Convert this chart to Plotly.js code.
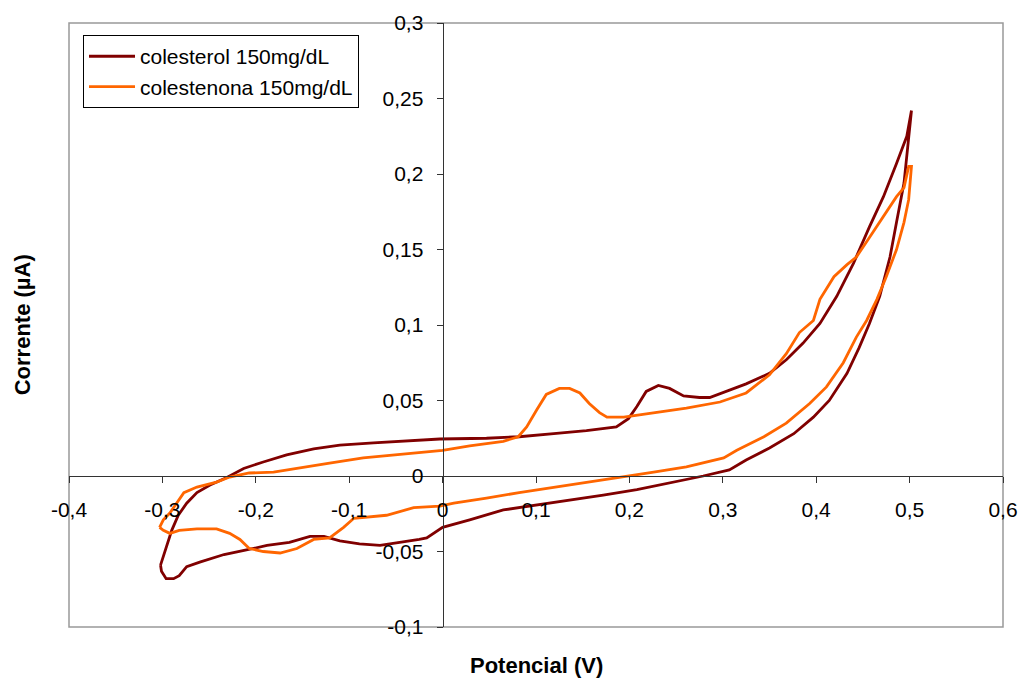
<!DOCTYPE html>
<html>
<head>
<meta charset="utf-8">
<script src="https://cdn.plot.ly/plotly-3.0.1.min.js"></script>
<style>html,body{margin:0;padding:0;background:#fff;}#chart{width:1030px;height:680px;}</style>
</head>
<body>
<div id="chart"></div>
<script>
// ---- Data ----
var seriesNames = ['colesterol 150mg/dL', 'colestenona 150mg/dL'];

// colesterol: anodic (forward) sweep
var colesterolFwdE = [-0.302,-0.296,-0.290,-0.283,-0.274,-0.263,-0.249,-0.231,-0.213,-0.192,-0.167,-0.138,-0.110,-0.074,-0.039,-0.003,0.047,0.082,0.119,0.154,0.186,0.199,0.208,0.218,0.231,0.243,0.258,0.275,0.286,0.304,0.325,0.350,0.368,0.386,0.404,0.422,0.440,0.457,0.472,0.486,0.497,0.502];
var colesterolFwdI = [-0.059,-0.047,-0.036,-0.026,-0.018,-0.011,-0.006,-0.001,0.005,0.0093,0.014,0.018,0.0205,0.022,0.023,0.0245,0.025,0.026,0.028,0.030,0.0325,0.038,0.046,0.056,0.060,0.058,0.053,0.052,0.052,0.056,0.061,0.068,0.077,0.088,0.101,0.119,0.141,0.165,0.185,0.207,0.225,0.242];
// colesterol: cathodic (reverse) sweep
var colesterolRevE = [0.499,0.494,0.486,0.479,0.468,0.457,0.446,0.433,0.414,0.397,0.376,0.350,0.325,0.307,0.279,0.243,0.208,0.172,0.136,0.101,0.065,0.029,0.0,-0.017,-0.025,-0.046,-0.067,-0.089,-0.110,-0.127,-0.142,-0.164,-0.188,-0.210,-0.234,-0.260,-0.274,-0.282,-0.288,-0.296,-0.301,-0.302];
var colesterolRevI = [0.222,0.194,0.168,0.145,0.119,0.101,0.085,0.068,0.050,0.039,0.028,0.0185,0.0106,0.004,0.0,-0.0046,-0.009,-0.0126,-0.016,-0.019,-0.0225,-0.029,-0.034,-0.041,-0.042,-0.044,-0.046,-0.045,-0.043,-0.040,-0.040,-0.044,-0.046,-0.049,-0.052,-0.057,-0.060,-0.066,-0.068,-0.068,-0.063,-0.059];

// colestenona: anodic (forward) sweep
var colestenonaFwdE = [-0.303,-0.299,-0.292,-0.277,-0.263,-0.242,-0.228,-0.207,-0.181,-0.156,-0.121,-0.085,-0.049,-0.014,0.0,0.029,0.065,0.081,0.090,0.101,0.111,0.125,0.136,0.147,0.157,0.168,0.176,0.194,0.226,0.261,0.297,0.325,0.350,0.368,0.382,0.397,0.404,0.419,0.433,0.443,0.457,0.472,0.486,0.494,0.499,0.502];
var colestenonaFwdI = [-0.034,-0.029,-0.0245,-0.011,-0.0073,-0.004,-0.0007,0.002,0.0026,0.0053,0.0086,0.012,0.014,0.016,0.017,0.020,0.023,0.026,0.0325,0.044,0.054,0.058,0.058,0.055,0.048,0.042,0.039,0.039,0.042,0.045,0.049,0.055,0.067,0.081,0.095,0.103,0.117,0.132,0.140,0.145,0.158,0.172,0.185,0.191,0.205,0.205];
// colestenona: cathodic (reverse) sweep
var colestenonaRevE = [0.499,0.494,0.486,0.475,0.465,0.454,0.443,0.429,0.411,0.393,0.368,0.344,0.315,0.301,0.261,0.226,0.190,0.154,0.119,0.082,0.047,0.012,-0.003,-0.031,-0.060,-0.081,-0.095,-0.106,-0.121,-0.138,-0.156,-0.174,-0.192,-0.207,-0.217,-0.228,-0.242,-0.263,-0.282,-0.292,-0.299,-0.303];
var colestenonaRevI = [0.183,0.168,0.150,0.132,0.117,0.103,0.092,0.075,0.059,0.048,0.035,0.026,0.017,0.012,0.006,0.0026,-0.0007,-0.004,-0.0073,-0.011,-0.0146,-0.018,-0.020,-0.021,-0.026,-0.027,-0.028,-0.034,-0.041,-0.042,-0.048,-0.051,-0.050,-0.048,-0.042,-0.038,-0.035,-0.035,-0.036,-0.038,-0.036,-0.034];

// Tick values and labels
var xTickVals = [-0.4,-0.3,-0.2,-0.1,0,0.1,0.2,0.3,0.4,0.5,0.6];
var xTickText = ['-0,4','-0,3','-0,2','-0,1','0','0,1','0,2','0,3','0,4','0,5','0,6'];
var yTickVals = [-0.1,-0.05,0,0.05,0.1,0.15,0.2,0.25,0.3];
var yTickText = ['-0,1','-0,05','0','0,05','0,1','0,15','0,2','0,25','0,3'];

var xTitle = 'Potencial (V)';
var yTitle = 'Corrente (µA)';

// ---- Chart ----
var FONT = 'Arial, "Liberation Sans", sans-serif';
var AXCOL = '#333333';

var traces = [
  {
    x: colesterolFwdE.concat(colesterolRevE),
    y: colesterolFwdI.concat(colesterolRevI),
    name: seriesNames[0], type: 'scatter', mode: 'lines',
    line: {color: '#800000', width: 2.8}
  },
  {
    x: colestenonaFwdE.concat(colestenonaRevE),
    y: colestenonaFwdI.concat(colestenonaRevI),
    name: seriesNames[1], type: 'scatter', mode: 'lines',
    line: {color: '#FF6600', width: 2.8}
  }
];

var layout = {
  width: 1030, height: 680,
  margin: {l: 69, r: 27, t: 23, b: 53, pad: 0},
  paper_bgcolor: '#ffffff', plot_bgcolor: '#ffffff',
  font: {family: FONT, size: 21, color: '#000000'},
  showlegend: true,
  hovermode: false,
  xaxis: {
    range: [-0.4, 0.6], autorange: false,
    anchor: 'free', position: 0.25,
    showgrid: false, zeroline: false,
    showline: true, linecolor: AXCOL, linewidth: 1,
    ticks: 'outside', ticklen: 6, tickcolor: AXCOL, tickwidth: 1,
    ticklabelstandoff: 9,
    tickmode: 'array', tickvals: xTickVals, ticktext: xTickText,
    tickfont: {family: FONT, size: 21, color: '#000'}
  },
  yaxis: {
    range: [-0.1, 0.3], autorange: false,
    anchor: 'free', position: 0.4,
    showgrid: false, zeroline: false,
    showline: true, linecolor: AXCOL, linewidth: 1,
    ticks: 'outside', ticklen: 6, tickcolor: AXCOL, tickwidth: 1,
    ticklabelstandoff: 9,
    tickmode: 'array', tickvals: yTickVals, ticktext: yTickText,
    tickfont: {family: FONT, size: 21, color: '#000'}
  },
  legend: {
    x: 0.015, y: 0.98, xanchor: 'left', yanchor: 'top',
    bgcolor: '#ffffff', bordercolor: '#000000', borderwidth: 1,
    font: {family: FONT, size: 21, color: '#000'},
    itemwidth: 46,
    tracegroupgap: 0
  },
  shapes: [
    {type: 'rect', xref: 'paper', yref: 'paper', x0: 0, x1: 1, y0: 0, y1: 1,
     line: {color: '#999999', width: 1.5}, fillcolor: 'rgba(0,0,0,0)', layer: 'below'}
  ],
  annotations: [
    {text: '<b>' + xTitle + '</b>', xref: 'paper', yref: 'paper', x: 0.5, y: -0.063,
     xanchor: 'center', yanchor: 'middle', showarrow: false,
     font: {family: FONT, size: 22, color: '#000'}},
    {text: '<b>' + yTitle + '</b>', xref: 'paper', yref: 'paper', x: -0.05, y: 0.5,
     xanchor: 'center', yanchor: 'middle', showarrow: false, textangle: -90,
     font: {family: FONT, size: 22, color: '#000'}}
  ]
};

Plotly.newPlot('chart', traces, layout, {displayModeBar: false, staticPlot: true});
</script>
</body>
</html>
